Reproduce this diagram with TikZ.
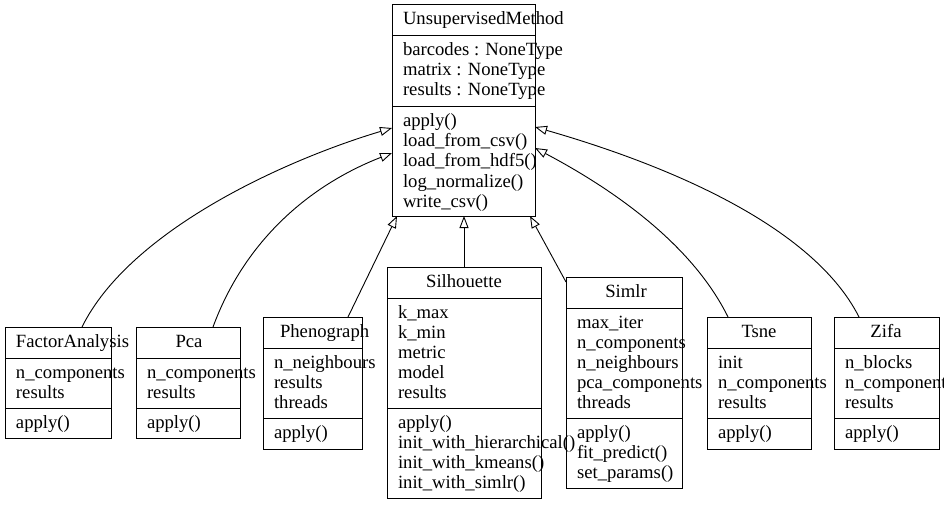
\documentclass[tikz,border=0pt]{standalone}
\usepackage{fontspec}
\setmainfont{Liberation Serif}
\usetikzlibrary{arrows.meta}
\tikzset{
  classbox/.style={draw=black, line width=1pt, inner sep=0pt, outer sep=0pt, fill=none},
  txt/.style={inner sep=0pt, outer sep=0pt, font=\fontsize{18.67}{20}\selectfont},
  sep/.style={line width=1pt},
  inherit/.style={line width=0.9pt, -{Triangle[open, length=12pt, width=9pt, fill=white]}},
}
% \classbox{name}{left}{top}{right}{bottom}
\newcommand{\mkbox}[5]{%
  \node[classbox, anchor=north west, minimum width={(#4-#2)*1pt}, minimum height={(#5-#3)*1pt}] (#1) at (#2,#3) {};}
\begin{document}
\begin{tikzpicture}[x=1pt, y=-1pt]
\useasboundingbox (0,0) rectangle (944,505);

% ---------- UnsupervisedMethod ----------
\mkbox{um}{392}{5}{535}{216}
\draw[sep] (392,36) -- (535,36);
\draw[sep] (392,107) -- (535,107);
\node[txt, anchor=base west] (umt) at (403,25) {UnsupervisedMethod};
\node[txt, anchor=base west] (uma1) at (403,56) {barcodes : NoneType};
\node[txt, anchor=base west] (uma2) at (403,76) {matrix : NoneType};
\node[txt, anchor=base west] (uma3) at (403,96) {results : NoneType};
\node[txt, anchor=base west] (umm1) at (403,127) {apply()};
\node[txt, anchor=base west] (umm2) at (403,147) {load\_from\_csv()};
\node[txt, anchor=base west] (umm3) at (403,167) {load\_from\_hdf5()};
\node[txt, anchor=base west] (umm4) at (403,187) {log\_normalize()};
\node[txt, anchor=base west] (umm5) at (403,207) {write\_csv()};

% ---------- FactorAnalysis ----------
\mkbox{fa}{5}{327}{111}{438}
\draw[sep] (5,358) -- (111,358);
\draw[sep] (5,408) -- (111,408);
\node[txt, anchor=base west] (fat) at (16,347) {FactorAnalysis};
\node[txt, anchor=base west] (faa1) at (16,378) {n\_components};
\node[txt, anchor=base west] (faa2) at (16,398) {results};
\node[txt, anchor=base west] (fam1) at (16,428) {apply()};

% ---------- Pca ----------
\mkbox{pca}{136}{327}{240}{438}
\draw[sep] (136,358) -- (240,358);
\draw[sep] (136,408) -- (240,408);
\node[txt, anchor=base] (pcat) at (189,347) {Pca};
\node[txt, anchor=base west] (pcaa1) at (147,378) {n\_components};
\node[txt, anchor=base west] (pcaa2) at (147,398) {results};
\node[txt, anchor=base west] (pcam1) at (147,428) {apply()};

% ---------- Phenograph ----------
\mkbox{ph}{263}{317}{362}{449}
\draw[sep] (263,348) -- (362,348);
\draw[sep] (263,418) -- (362,418);
\node[txt, anchor=base west] (pht) at (280,337) {Phenograph};
\node[txt, anchor=base west] (pha1) at (274,368) {n\_neighbours};
\node[txt, anchor=base west] (pha2) at (274,388) {results};
\node[txt, anchor=base west] (pha3) at (274,408) {threads};
\node[txt, anchor=base west] (phm1) at (274,438) {apply()};

% ---------- Silhouette ----------
\mkbox{sil}{387}{267}{541}{498}
\draw[sep] (387,298) -- (541,298);
\draw[sep] (387,408) -- (541,408);
\node[txt, anchor=base] (silt) at (464,287) {Silhouette};
\node[txt, anchor=base west] (sila1) at (398,318) {k\_max};
\node[txt, anchor=base west] (sila2) at (398,338) {k\_min};
\node[txt, anchor=base west] (sila3) at (398,358) {metric};
\node[txt, anchor=base west] (sila4) at (398,378) {model};
\node[txt, anchor=base west] (sila5) at (398,398) {results};
\node[txt, anchor=base west] (silm1) at (398,428) {apply()};
\node[txt, anchor=base west] (silm2) at (398,448) {init\_with\_hierarchical()};
\node[txt, anchor=base west] (silm3) at (398,468) {init\_with\_kmeans()};
\node[txt, anchor=base west] (silm4) at (398,488) {init\_with\_simlr()};

% ---------- Simlr ----------
\mkbox{sim}{566}{277}{682}{488}
\draw[sep] (566,308) -- (682,308);
\draw[sep] (566,418) -- (682,418);
\node[txt, anchor=base] (simt) at (626,297) {Simlr};
\node[txt, anchor=base west] (sima1) at (577,328) {max\_iter};
\node[txt, anchor=base west] (sima2) at (577,348) {n\_components};
\node[txt, anchor=base west] (sima3) at (577,368) {n\_neighbours};
\node[txt, anchor=base west] (sima4) at (577,388) {pca\_components};
\node[txt, anchor=base west] (sima5) at (577,408) {threads};
\node[txt, anchor=base west] (simm1) at (577,438) {apply()};
\node[txt, anchor=base west] (simm2) at (577,458) {fit\_predict()};
\node[txt, anchor=base west] (simm3) at (577,478) {set\_params()};

% ---------- Tsne ----------
\mkbox{ts}{707}{317}{811}{449}
\draw[sep] (707,348) -- (811,348);
\draw[sep] (707,418) -- (811,418);
\node[txt, anchor=base] (tst) at (759,337) {Tsne};
\node[txt, anchor=base west] (tsa1) at (718,368) {init};
\node[txt, anchor=base west] (tsa2) at (718,388) {n\_components};
\node[txt, anchor=base west] (tsa3) at (718,408) {results};
\node[txt, anchor=base west] (tsm1) at (718,438) {apply()};

% ---------- Zifa ----------
\mkbox{zi}{834}{317}{939}{449}
\draw[sep] (834,348) -- (939,348);
\draw[sep] (834,418) -- (939,418);
\node[txt, anchor=base] (zit) at (886,337) {Zifa};
\node[txt, anchor=base west] (zia1) at (845,368) {n\_blocks};
\node[txt, anchor=base west] (zia2) at (845,388) {n\_components};
\node[txt, anchor=base west] (zia3) at (845,408) {results};
\node[txt, anchor=base west] (zim1) at (845,438) {apply()};

% ---------- inheritance edges ----------
\draw[inherit] ([xshift=24pt]fa.north) .. controls (130,230) and (285,160) .. ([yshift=-17.5pt]um.west);
\draw[inherit] ([xshift=25pt]pca.north) .. controls (245,240) and (310,185) .. ([yshift=-42.5pt]um.west);
\draw[inherit] ([xshift=35.5pt]ph.north) -- ([xshift=-66.5pt]um.south);
\draw[inherit] (sil.north) -- (sil.north |- um.south);
\draw[inherit] ([yshift=-5pt]sim.north west) -- ([xshift=66.5pt]um.south);
\draw[inherit] ([xshift=-31pt]ts.north) .. controls (690,240) and (605,185) .. ([yshift=-37.5pt]um.east);
\draw[inherit] ([xshift=-27.5pt]zi.north) .. controls (810,220) and (650,160) .. ([yshift=-16.5pt]um.east);
\end{tikzpicture}
\end{document}
